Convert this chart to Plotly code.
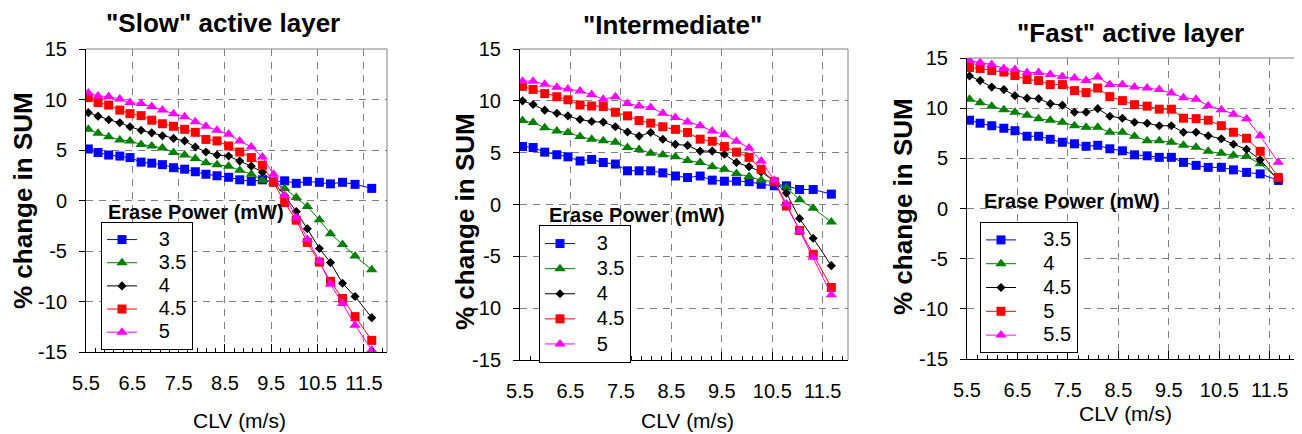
import plotly.graph_objects as go

# window size and page offset (default body margin of the html page)
W, H = 1302, 434
OFF = 8
FW, FH = W - OFF, H - OFF

clv = [5.55, 5.76, 5.99, 6.23, 6.45, 6.69, 6.92, 7.15, 7.39, 7.63, 7.86, 8.09, 8.33,
       8.58, 8.82, 9.07, 9.31, 9.55, 9.79, 10.04, 10.28, 10.54, 10.78, 11.04, 11.31, 11.67]

# "Slow" active layer
slow_labels = ["3", "3.5", "4", "4.5", "5"]
slow_3 = [5.1, 4.75, 4.5, 4.4, 4.25, 3.8, 3.7, 3.55, 3.25, 3.1, 2.85, 2.6, 2.45, 2.3, 2.05,
          1.9, 2.05, 1.85, 1.95, 1.7, 1.9, 1.8, 1.65, 1.8, 1.6, 1.2]
slow_35 = [7.05, 6.65, 6.3, 6.0, 5.9, 5.55, 5.4, 5.2, 4.75, 4.5, 4.15, 3.75, 3.55, 3.4, 3.0,
           2.6, 2.0, 1.8, 1.2, 0.3, -0.6, -1.9, -3.3, -4.35, -5.5, -6.85]
slow_4 = [8.7, 8.35, 8.0, 7.7, 7.3, 6.95, 6.7, 6.4, 6.15, 5.9, 5.3, 4.8, 4.5, 4.4, 3.9,
          3.4, 2.8, 1.8, 0.5, -1.1, -2.8, -4.75, -6.15, -8.2, -9.5, -11.6]
slow_45 = [10.2, 9.7, 9.45, 8.95, 8.6, 8.4, 7.95, 7.6, 7.35, 7.05, 6.75, 6.05, 5.9, 5.4, 4.8,
           4.25, 3.5, 1.8, -0.2, -1.95, -4.15, -6.1, -8.0, -9.7, -11.5, -13.85]
slow_5 = [10.65, 10.35, 10.3, 10.05, 9.7, 9.6, 9.3, 8.95, 8.6, 8.3, 7.8, 7.35, 6.95, 6.55, 5.9,
          5.3, 4.3, 2.6, 0.5, -1.7, -3.85, -6.0, -8.3, -10.2, -12.35, -14.8]

# "Intermediate"
inter_labels = ["3", "3.5", "4", "4.5", "5"]
inter_3 = [5.6, 5.5, 5.05, 4.8, 4.6, 4.2, 4.35, 4.05, 3.9, 3.25, 3.25, 3.25, 3.05, 2.75, 2.6,
           2.75, 2.35, 2.25, 2.25, 2.2, 1.95, 1.8, 1.8, 1.45, 1.45, 1.0]
inter_35 = [8.1, 7.9, 7.4, 7.1, 6.95, 6.55, 6.3, 6.15, 6.0, 5.5, 5.3, 4.95, 4.8, 4.6, 4.25,
            4.05, 3.65, 3.4, 3.0, 2.7, 2.35, 2.2, 1.65, 0.45, -0.35, -1.7]
inter_4 = [10.0, 9.65, 9.1, 8.8, 8.55, 8.2, 8.0, 7.95, 7.5, 7.0, 6.6, 6.95, 6.3, 5.8, 5.7,
           5.15, 5.15, 4.85, 4.05, 3.65, 3.15, 2.25, 1.1, -1.35, -3.25, -5.9]
inter_45 = [11.4, 11.1, 10.7, 10.4, 10.1, 9.6, 9.5, 9.45, 8.9, 8.55, 8.1, 7.85, 7.5, 7.25, 6.95,
            6.3, 6.1, 5.6, 5.05, 4.55, 3.4, 2.2, -0.15, -2.5, -4.8, -8.0]
inter_5 = [11.9, 11.9, 11.6, 11.3, 11.15, 10.95, 10.6, 10.15, 10.4, 9.75, 9.5, 9.35, 8.8, 8.4, 7.95,
           7.6, 7.1, 6.75, 6.1, 5.45, 4.2, 2.35, 0.05, -2.55, -5.1, -8.7]

# "Fast" active layer
fast_labels = ["3.5", "4", "4.5", "5", "5.5"]
fast_35 = [8.8, 8.5, 8.25, 8.0, 7.75, 7.2, 7.2, 6.9, 6.6, 6.45, 6.2, 6.3, 5.95, 5.75, 5.35,
           5.25, 5.1, 5.1, 4.6, 4.3, 4.1, 4.1, 3.85, 3.6, 3.45, 2.8]
fast_4 = [10.9, 10.55, 10.2, 9.85, 9.6, 9.3, 8.95, 8.8, 8.6, 8.25, 8.1, 8.1, 7.6, 7.6, 7.2,
          6.75, 6.75, 6.6, 6.3, 6.1, 5.7, 5.5, 5.3, 5.2, 4.45, 2.95]
fast_45 = [13.2, 12.75, 12.1, 11.85, 11.25, 11.0, 10.95, 10.45, 10.3, 9.6, 9.6, 9.95, 9.2, 9.0, 8.6,
           8.5, 8.25, 8.25, 7.6, 7.6, 7.25, 6.95, 6.4, 5.9, 4.85, 2.85]
fast_5 = [14.05, 13.95, 13.75, 13.6, 13.25, 12.85, 12.75, 12.35, 12.35, 11.75, 11.55, 12.0, 11.15, 10.75, 10.35,
          10.2, 9.9, 9.9, 9.0, 8.95, 8.8, 8.25, 7.6, 7.0, 5.7, 3.1]
fast_55 = [14.75, 14.55, 14.35, 13.95, 13.85, 13.55, 13.55, 13.35, 13.15, 13.0, 12.75, 13.1, 12.35, 12.35, 12.1,
           12.0, 11.85, 11.5, 11.05, 10.9, 10.25, 9.85, 9.4, 8.95, 7.25, 4.6]

panel_titles = ['"Slow" active layer', '"Intermediate"', '"Fast" active layer']
x_ticks = [5.5, 6.5, 7.5, 8.5, 9.5, 10.5, 11.5]
y_ticks = [-15, -10, -5, 0, 5, 10, 15]

colors = ["#0000FF", "#008000", "#000000", "#FF0000", "#FF00FF"]
symbols = ["square", "triangle-up", "diamond", "square", "triangle-up"]
sizes = [9, 10, 7, 9, 10]

FONT = "Arial, Liberation Sans, sans-serif"

# window-pixel boxes of plot areas: (left, right, top, bottom)
boxes = [(86, 387, 49, 352), (520, 848, 49, 360), (967, 1295, 58, 359)]

def px(x):
    return (x - OFF) / FW

def py(y):
    return 1 - (y - OFF) / FH

panels = [
    (slow_labels, [slow_3, slow_35, slow_4, slow_45, slow_5]),
    (inter_labels, [inter_3, inter_35, inter_4, inter_45, inter_5]),
    (fast_labels, [fast_35, fast_4, fast_45, fast_5, fast_55]),
]
legend_indent = [3, 3, 4]

fig = go.Figure()
legend_names = ["legend", "legend2", "legend3"]

for p, (labels, series) in enumerate(panels):
    suffix = "" if p == 0 else str(p + 1)
    pad = "\u00a0" * legend_indent[p]
    for i, (lab, ys) in enumerate(zip(labels, series)):
        fig.add_trace(go.Scatter(
            x=clv, y=ys, name='<span style="font-size:20px">%s%s</span>' % (pad, lab),
            mode="lines+markers",
            line=dict(color=colors[i], width=1),
            marker=dict(color=colors[i], symbol=symbols[i], size=sizes[i],
                        line=dict(width=0)),
            xaxis="x" + suffix, yaxis="y" + suffix,
            legend=legend_names[p],
        ))

layout = dict(
    width=FW, height=FH,
    margin=dict(l=0, r=0, t=0, b=0, pad=0, autoexpand=False),
    paper_bgcolor="white", plot_bgcolor="white",
    font=dict(family=FONT, color="black"),
    showlegend=True,
)

legend_pos = [(101, 222), (539, 225), (980, 222)]
legend_fs = [15.5, 17, 16]
legend_title_pos = [(106, 212), (547, 215), (982, 201)]
title_pos = [(223, 23), (672, 25), (1130, 33)]
ytitle_pos = [(23, 201), (465, 222), (903, 207)]
xtitle_pos = [(239, 420), (687, 420), (1125, 413)]

annotations = []
shapes = []
for p in range(3):
    l, r, t, b = boxes[p]
    suffix = "" if p == 0 else str(p + 1)
    layout["xaxis" + suffix] = dict(
        domain=[px(l), px(r)], anchor="y" + suffix, range=[5.5, 12.0],
        tickmode="array", tickvals=x_ticks, ticktext=[str(v) for v in x_ticks],
        ticks="inside", ticklen=8, tickcolor="black", tickwidth=1,
        minor=dict(ticks="inside", ticklen=4, dtick=0.2, tick0=5.5,
                   tickcolor="black", showgrid=False),
        showline=True, linecolor="black", linewidth=1,
        showgrid=True, gridcolor="#808080", griddash="7px,6px", gridwidth=1,
        zeroline=False, tickfont=dict(size=20, family=FONT),
        ticklabelstandoff=13, automargin=False,
    )
    layout["yaxis" + suffix] = dict(
        domain=[py(b), py(t)], anchor="x" + suffix, range=[-15, 15],
        tickmode="array", tickvals=y_ticks, ticktext=[str(v) for v in y_ticks],
        ticks="outside", ticklen=6, tickcolor="black", tickwidth=1,
        showline=True, linecolor="black", linewidth=1,
        showgrid=True, gridcolor="#808080", griddash="7px,6px", gridwidth=1,
        zeroline=False, tickfont=dict(size=20, family=FONT),
        ticklabelstandoff=8, automargin=False,
    )
    lx, ly = legend_pos[p]
    layout[legend_names[p]] = dict(
        x=px(lx), y=py(ly), xanchor="left", yanchor="top",
        bgcolor="white", bordercolor="black", borderwidth=1,
        font=dict(size=legend_fs[p], family=FONT), tracegroupgap=0,
        itemwidth=30,
    )
    # plot border (top/right) in gray
    shapes.append(dict(type="line", xref="paper", yref="paper",
                       x0=px(l), x1=px(r), y0=py(t), y1=py(t),
                       line=dict(color="#808080", width=1)))
    shapes.append(dict(type="line", xref="paper", yref="paper",
                       x0=px(r), x1=px(r), y0=py(t), y1=py(b),
                       line=dict(color="#808080", width=1)))
    tx, ty = title_pos[p]
    annotations.append(dict(text="<b>%s</b>" % panel_titles[p], x=px(tx), y=py(ty),
                            xref="paper", yref="paper", showarrow=False,
                            xanchor="center", yanchor="middle",
                            font=dict(size=26, family=FONT)))
    yx, yy = ytitle_pos[p]
    annotations.append(dict(text="<b>% change in SUM</b>", x=px(yx), y=py(yy),
                            xref="paper", yref="paper", showarrow=False,
                            textangle=-90, xanchor="center", yanchor="middle",
                            font=dict(size=26, family=FONT)))
    xx, xy = xtitle_pos[p]
    annotations.append(dict(text="CLV (m/s)", x=px(xx), y=py(xy),
                            xref="paper", yref="paper", showarrow=False,
                            xanchor="center", yanchor="middle",
                            font=dict(size=21, family=FONT)))
    gx, gy = legend_title_pos[p]
    annotations.append(dict(text="<b>Erase Power (mW)</b>", x=px(gx), y=py(gy),
                            xref="paper", yref="paper", showarrow=False,
                            xanchor="left", yanchor="middle",
                            font=dict(size=20, family=FONT)))

layout["annotations"] = annotations
layout["shapes"] = shapes
fig.update_layout(**layout)

fig.write_html("out.html")
